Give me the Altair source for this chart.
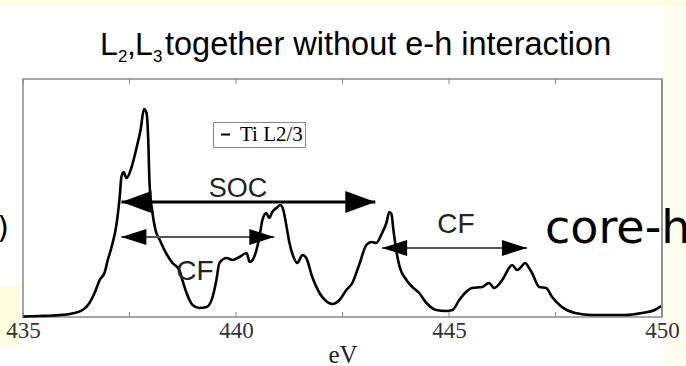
import altair as alt
import pandas as pd

# ---- data ----
energy = [435.00, 435.39, 435.70, 436.09, 436.40, 436.56, 436.68, 436.80, 436.92, 436.99,
          437.08, 437.20, 437.27, 437.31, 437.36, 437.43, 437.55, 437.67, 437.76, 437.84,
          437.90, 437.94, 437.97, 438.04, 438.11, 438.21, 438.37, 438.51, 438.67, 438.74,
          438.84, 438.98, 439.14, 439.31, 439.45, 439.54, 439.61, 439.78, 439.92, 440.08,
          440.25, 440.32, 440.39, 440.48, 440.55, 440.62, 440.71, 440.78, 440.85, 440.95,
          441.04, 441.11, 441.18, 441.25, 441.35, 441.44, 441.56, 441.65, 441.79, 441.96,
          442.14, 442.26, 442.43, 442.59, 442.73, 442.89, 443.06, 443.18, 443.29, 443.43,
          443.53, 443.60, 443.65, 443.69, 443.76, 443.83, 444.00, 444.14, 444.30, 444.47,
          444.70, 444.93, 445.08, 445.24, 445.40, 445.54, 445.78, 445.94, 446.06, 446.25,
          446.41, 446.48, 446.60, 446.67, 446.79, 446.88, 446.95, 447.12, 447.28, 447.42,
          447.65, 447.96, 448.36, 448.76, 449.13, 449.53, 449.83, 449.98]
intensity = [0.5, 1, 1.5, 3, 7, 14, 24, 37, 45, 57,
             70, 94, 120, 140, 145, 139, 150, 170, 187, 208,
             204, 177, 134, 104, 87, 77, 63, 54, 47, 37,
             24, 12, 9, 10, 20, 37, 54, 59, 57, 60,
             64, 55, 57, 67, 80, 97, 104, 99, 105, 109,
             112, 107, 92, 75, 60, 54, 62, 59, 40, 24,
             15, 13, 17, 27, 34, 52, 72, 75, 74, 84,
             94, 105, 103, 89, 67, 52, 37, 30, 24, 14,
             7, 6, 7, 17, 25, 29, 30, 34, 29, 37,
             49, 52, 47, 49, 54, 49, 44, 30, 29, 20,
             10, 4, 2, 2, 2, 4, 7, 11]
series_name = "Ti L2/3"

tick_values = [435, 437.5, 440, 442.5, 445, 447.5, 450]
label_values = [435, 440, 445, 450]
frame_right = [450]

arrow_ids = [0, 1, 2]
arrow_names = ["SOC", "CF", "CF"]
arrow_start = [437.31, 437.31, 443.43]
arrow_end = [443.27, 440.90, 446.83]
arrow_level = [115, 80, 69]

spec = pd.DataFrame({"eV": energy, "I": intensity, "series": series_name})
arrows = pd.DataFrame({"id": arrow_ids, "name": arrow_names, "start": arrow_start,
                       "end": arrow_end, "level": arrow_level})
ticks = pd.DataFrame({"t": tick_values})
edge = pd.DataFrame({"t": frame_right})

xs = alt.Scale(domain=[435, 450], nice=False, zero=False)
ys = alt.Scale(domain=[0, 238], nice=False, zero=False)
SERIF = "Liberation Serif"
SANS = "Liberation Sans"

one = pd.DataFrame({"k": [0]})


def rect(x, x2, y, y2, color):
    return alt.Chart(one).mark_rect(color=color).encode(
        x=alt.value(x), x2=alt.value(x2), y=alt.value(y), y2=alt.value(y2))


def text(s, x, y, size, font=SANS, align="left", color="black"):
    return alt.Chart(pd.DataFrame({"s": [s]})).mark_text(
        font=font, fontSize=size, align=align, baseline="alphabetic", color=color).encode(
        x=alt.value(x), y=alt.value(y), text="s:N")


X_AXIS = alt.Axis(values=label_values, format="d", ticks=False, domain=False,
                  grid=False, labelFont=SERIF, labelFontSize=23,
                  labelColor="#333", labelPadding=2, labelFlush=False,
                  labelOverlap=False, titleFont=SERIF, titleFontSize=25,
                  titleFontWeight="normal", titleColor="#222", titlePadding=0,
                  zindex=1)


def xenc(field):
    return alt.X(field, scale=xs, title="eV", axis=X_AXIS)


# plot origin is at page (23, 79)
bg = [
    rect(-23, 663, -79, -73, "#fdfbe4"),
    rect(-23, -3, 206, 266, "#fffde0"),
    rect(641, 663, -73, 287, "#fdfcef"),
]

curve = alt.Chart(spec).mark_line(strokeWidth=2.6, interpolate="monotone").encode(
    x=xenc("eV:Q"),
    y=alt.Y("I:Q", scale=ys, axis=None),
    color=alt.Color("series:N", scale=alt.Scale(range=["black"]),
                    legend=alt.Legend(title=None, orient="none", legendX=190, legendY=43,
                                      symbolType="stroke", symbolSize=81,
                                      symbolStrokeWidth=2, labelFont=SERIF,
                                      labelFontSize=21, labelColor="black",
                                      strokeColor="#888", fillColor="white",
                                      padding=2, labelOffset=4)),
)

tick_bottom = alt.Chart(ticks).mark_rule(color="#8a8a8a", strokeWidth=1).encode(
    x=xenc("t:Q"), y=alt.value(238), y2=alt.value(233))
tick_top = alt.Chart(ticks).mark_rule(color="#8a8a8a", strokeWidth=1).encode(
    x=xenc("t:Q"), y=alt.value(0), y2=alt.value(5))

soc_line = alt.Chart(arrows).transform_filter("datum.id == 0").mark_rule(
    strokeWidth=3, color="black").encode(
    x=xenc("start:Q"), x2="end:Q", y=alt.Y("level:Q", scale=ys, axis=None))
cf_line = alt.Chart(arrows).transform_filter("datum.id > 0").mark_rule(
    strokeWidth=2, color="#555").encode(
    x=xenc("start:Q"), x2="end:Q", y=alt.Y("level:Q", scale=ys, axis=None))

LEFT_BIG = "M0,0L2,-0.73L2,0.73Z"
RIGHT_BIG = "M0,0L-2,-0.73L-2,0.73Z"
LEFT_SMALL = "M0,0L2,-0.64L2,0.64Z"
RIGHT_SMALL = "M0,0L-2,-0.64L-2,0.64Z"


def head(filt, field, shape, size):
    return alt.Chart(arrows).transform_filter(filt).mark_point(
        shape=shape, filled=True, size=size, color="black", opacity=1, strokeWidth=0).encode(
        x=xenc(f"{field}:Q"), y=alt.Y("level:Q", scale=ys, axis=None))


heads = [
    head("datum.id == 0", "start", LEFT_BIG, 900),
    head("datum.id == 0", "end", RIGHT_BIG, 900),
    head("datum.id > 0", "start", LEFT_SMALL, 625),
    head("datum.id > 0", "end", RIGHT_SMALL, 625),
]

labels = [
    text("SOC", 215, 118, 27, align="center", color="#222"),
    text("CF", 172, 201, 28, align="center", color="#222"),
    text("CF", 433, 154, 28, align="center", color="#222"),
    # title with subscripts
    text("L", 77, -24, 32),
    text("2", 95, -17, 17),
    text(",", 104, -24, 32),
    text("L", 112, -24, 32),
    text("3", 130, -17, 17),
    text("together without e-h interaction", 142, -24, 32.5),
    # slide text cut by the frame of the screenshot
    text("core-h", 522, 164, 46, font="DejaVu Sans"),
    text(")", -14, 159, 30, font="DejaVu Sans", align="right"),
]

frame_line = alt.Chart(edge).mark_rule(color="#8a8a8a", strokeWidth=1.5).encode(
    x=xenc("t:Q"), y=alt.value(0), y2=alt.value(238))

chart = alt.layer(curve, *bg, tick_bottom, tick_top, soc_line, cf_line, *heads, *labels,
                  frame_line).properties(
    width=639, height=238,
    autosize=alt.AutoSizeParams(type="none"),
    padding={"left": 23, "top": 79, "right": 24, "bottom": 49},
    background="white",
).configure_view(stroke="#8a8a8a", strokeWidth=1.5)

chart.save("out.html", embed_options={"renderer": "svg", "actions": False})
